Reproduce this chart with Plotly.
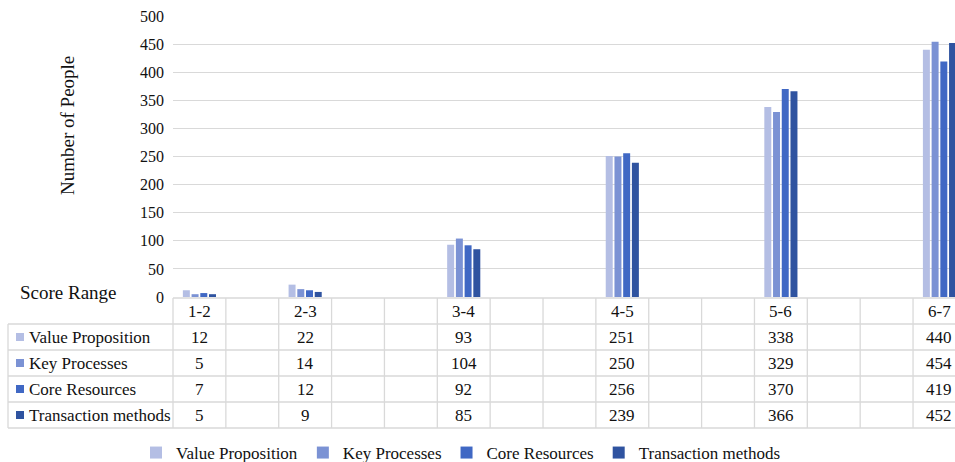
import plotly.graph_objects as go

# ---- data ----
score_ranges = ["1-2", "2-3", "3-4", "4-5", "5-6", "6-7"]
# table columns of the original data table (blank columns between ranges)
columns = ["1-2", "", "2-3", "", "", "3-4", "", "", "4-5", "", "", "5-6", "", "", "6-7"]
series_names = ["Value Proposition", "Key Processes", "Core Resources", "Transaction methods"]
value_proposition = [12, 22, 93, 251, 338, 440]
key_processes = [5, 14, 104, 250, 329, 454]
core_resources = [7, 12, 92, 256, 370, 419]
transaction_methods = [5, 9, 85, 239, 366, 452]
y_ticks = [0, 50, 100, 150, 200, 250, 300, 350, 400, 450, 500]

series_values = [value_proposition, key_processes, core_resources, transaction_methods]
colors = ["#b4bee4", "#7b92d4", "#4068c4", "#2f53a0"]

# ---- geometry ----
W, H = 955, 462
L, R, T, B = 173, 955, 16, 297
CW = 52.86  # column width px
x_lo = -0.5
x_hi = x_lo + (R - L) / CW

cat_ids = [c if c else "_blank%d" % i for i, c in enumerate(columns)]

def px_x(px):
    return (px - L) / (R - L)

def px_y(py):
    return (B - py) / (B - T)

FONT = "Liberation Serif, Times New Roman, serif"
TXT = "#111111"
GRID = "#d9d9d9"

fig = go.Figure()
for name, vals, col in zip(series_names, series_values, colors):
    fig.add_trace(go.Bar(x=score_ranges, y=vals, name=name, marker_color=col,
                         marker_line_width=0))

shapes = []
annotations = []

# table lines
row_lines = [298, 324, 350, 376, 402, 428]
for i, py in enumerate(row_lines):
    x0 = L if i == 0 else 8
    shapes.append(dict(type="line", xref="paper", yref="paper",
                       x0=px_x(x0), x1=1.0, y0=px_y(py), y1=px_y(py),
                       line=dict(color=GRID, width=1.3)))
for k in range(len(columns)):
    xb = (k - 0.5 - x_lo) / (x_hi - x_lo)
    shapes.append(dict(type="line", xref="paper", yref="paper",
                       x0=xb, x1=xb, y0=px_y(row_lines[0]), y1=px_y(row_lines[-1]),
                       line=dict(color=GRID, width=1.3)))
shapes.append(dict(type="line", xref="paper", yref="paper",
                   x0=px_x(8), x1=px_x(8), y0=px_y(row_lines[1]), y1=px_y(row_lines[-1]),
                   line=dict(color=GRID, width=1.3)))

# header row text
for c in columns:
    if c:
        annotations.append(dict(x=c, xref="x", y=px_y(311), yref="paper", text=c,
                                showarrow=False, font=dict(family=FONT, size=17, color=TXT),
                                xanchor="center", yanchor="middle"))
# data rows
for r, (name, vals, col) in enumerate(zip(series_names, series_values, colors)):
    yc = (row_lines[r + 1] + row_lines[r + 2]) / 2
    annotations.append(dict(x=px_x(27), xref="paper", y=px_y(yc), yref="paper", text=name,
                            showarrow=False, font=dict(family=FONT, size=17, color=TXT),
                            xanchor="left", yanchor="middle"))
    shapes.append(dict(type="rect", xref="paper", yref="paper",
                       x0=px_x(16), x1=px_x(24), y0=px_y(yc - 4), y1=px_y(yc + 4),
                       fillcolor=col, line=dict(width=0)))
    for cat, v in zip(score_ranges, vals):
        annotations.append(dict(x=cat, xref="x", y=px_y(yc), yref="paper", text=str(v),
                                showarrow=False, font=dict(family=FONT, size=17, color=TXT),
                                xanchor="center", yanchor="middle"))

# axis titles
annotations.append(dict(x=px_x(68), xref="paper", y=px_y(126), yref="paper",
                        text="Number of People", textangle=-90, showarrow=False,
                        font=dict(family=FONT, size=19, color=TXT),
                        xanchor="center", yanchor="middle"))
annotations.append(dict(x=px_x(69), xref="paper", y=px_y(292), yref="paper",
                        text="Score Range", showarrow=False,
                        font=dict(family=FONT, size=19, color=TXT),
                        xanchor="center", yanchor="middle"))

fig.update_layout(
    width=W, height=H,
    margin=dict(l=L, r=W - R, t=T, b=H - B, pad=0, autoexpand=False),
    paper_bgcolor="white", plot_bgcolor="white",
    barmode="group", bargap=0.34, bargroupgap=0.2,
    font=dict(family=FONT, size=16, color=TXT),
    xaxis=dict(type="category", categoryorder="array", categoryarray=cat_ids,
               range=[x_lo, x_hi], showticklabels=False, showgrid=False,
               zeroline=False, showline=False, ticks="", automargin=False),
    yaxis=dict(range=[0, 500], tickvals=y_ticks, showgrid=True, gridcolor=GRID,
               gridwidth=1.3, zeroline=False, showline=False, ticks="",
               automargin=False,
               ticklabelstandoff=8, tickfont=dict(family=FONT, size=16, color=TXT)),
    legend=dict(orientation="h", xref="container", yref="container",
                x=461 / W, xanchor="center", y=1 - 453 / H,
                yanchor="middle", font=dict(family=FONT, size=17, color=TXT),
                bgcolor="rgba(0,0,0,0)", itemwidth=30),
    shapes=shapes, annotations=annotations,
)

fig.write_html("out.html", config={"displayModeBar": False},
               post_script="document.body.style.margin='0';document.body.style.overflow='hidden';")
